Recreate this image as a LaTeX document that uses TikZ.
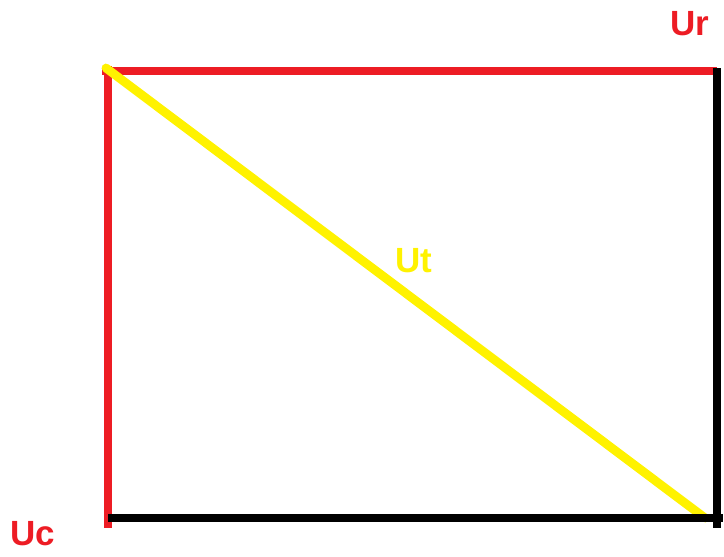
\documentclass[tikz,border=0pt]{standalone}
\usepackage{fontspec}
\setmainfont{Liberation Sans}
\usepackage{tikz}
\usetikzlibrary{positioning}
\definecolor{paintred}{RGB}{237,28,36}
\definecolor{paintyellow}{RGB}{255,242,0}
\tikzset{
  side/.style    ={line width=3.6pt},
  redside/.style ={side, draw=paintred},
  blkside/.style ={side, draw=black},
  diag/.style    ={line width=4.4pt, draw=paintyellow, line cap=round},
  lbl/.style     ={inner sep=0pt, font=\fontsize{17.5}{20}\selectfont\bfseries},
}
\begin{document}
\begin{tikzpicture}[x=0.5pt, y=-0.5pt]
    \useasboundingbox (0,0) rectangle (724,557);
    % corners
    \coordinate (tl) at (108,71);
    \coordinate (tr) at (717,71);
    \coordinate (br) at (717,518);
    \coordinate (bl) at (108,518);

    % labels
    \node[lbl, text=paintred] (ur) at (690,24) {Ur};
    \node[lbl, text=paintred] (uc) at (33,534) {Uc};
    \node[lbl, text=paintyellow] (ut) at (414,261) {Ut};

    % red sides
    \draw[redside] ([yshift=2.5]tl) -- ([yshift=-5]bl);
    \draw[redside] ([xshift=-3]tl) -- (tr);

    % diagonal
    \draw[diag] ([shift={(-2,-3)}]tl) -- ([xshift=-6]br);

    % black sides
    \draw[blkside] ([yshift=1.5]tr) -- ([yshift=-5]br);
    \draw[blkside] (bl) -- ([xshift=3]br);
\end{tikzpicture}
\end{document}
